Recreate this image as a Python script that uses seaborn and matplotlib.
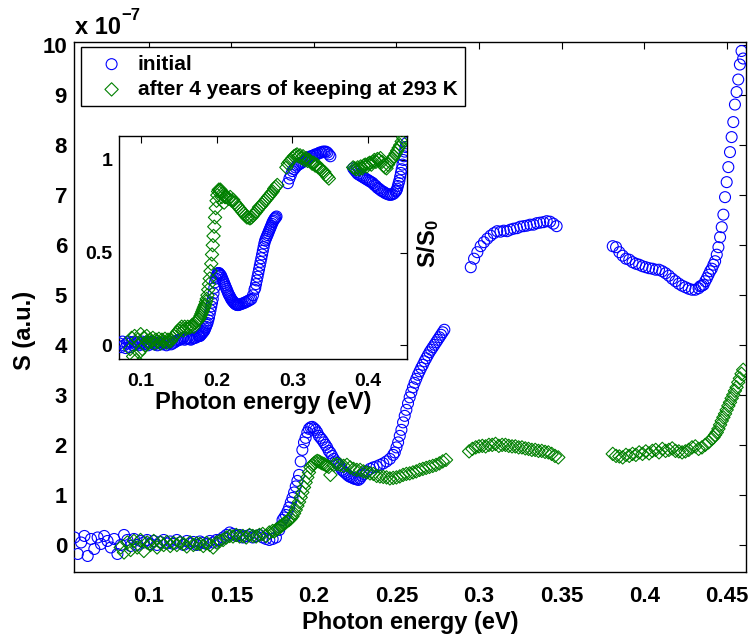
import numpy as np
import matplotlib
matplotlib.use("Agg")
import matplotlib.pyplot as plt
import seaborn as sns

# ---------------- data (main panel, S in units of 1e-7) ----------------
# each segment: (x_start, x_end, y values) sampled evenly between start and end
init_main_segments = [
    (0.055, 0.141, [0.15, -0.18, 0.05, 0.18, -0.22, 0.12, -0.08, 0.15, 0.02, 0.18,
                    0.08, -0.05, 0.12, -0.18, 0.0, 0.2, 0.1, -0.02, 0.12, 0.0,
                    0.08, 0.05, 0.1, 0.02, 0.08, 0.0, 0.06, 0.1, 0.03, 0.07,
                    0.02, 0.1, 0.05, 0.0, 0.08, 0.03, 0.06, 0.0, 0.07, 0.04,
                    0.02, 0.08, 0.05, 0.1]),
    (0.143, 0.179, [0.1, 0.15, 0.2, 0.25, 0.22, 0.18, 0.2, 0.15, 0.18, 0.2,
                    0.15, 0.18, 0.2, 0.15, 0.12, 0.1, 0.12, 0.15, 0.3]),
    (0.180, 0.230, [0.38, 0.5, 0.55, 0.6, 0.67, 0.75, 0.85, 0.94, 1.05, 1.17,
                    1.28, 1.4, 1.67, 1.9, 2.05, 2.14, 2.25, 2.32, 2.35, 2.36,
                    2.33, 2.3, 2.25, 2.18, 2.14, 2.1, 2.05, 2.0, 1.95, 1.88,
                    1.84, 1.78, 1.72, 1.67, 1.64, 1.6, 1.55, 1.5, 1.47, 1.44,
                    1.41, 1.38, 1.36, 1.35, 1.33, 1.32, 1.31, 1.3, 1.33, 1.38,
                    1.42]),
    (0.232, 0.248, [1.47, 1.52, 1.55, 1.57, 1.6, 1.63, 1.67, 1.72, 1.8]),
    (0.249, 0.279, [1.85, 1.95, 2.05, 2.18, 2.3, 2.45, 2.58, 2.7, 2.83, 2.95,
                    3.05, 3.15, 3.24, 3.32, 3.4, 3.47, 3.54, 3.6, 3.67, 3.73,
                    3.79, 3.85, 3.9, 3.95, 4.0, 4.05, 4.1, 4.15, 4.2, 4.25, 4.3]),
    (0.295, 0.347, [5.55, 5.72, 5.85, 5.97, 6.05, 6.12, 6.18, 6.23, 6.27, 6.26,
                    6.28, 6.27, 6.3, 6.32, 6.33, 6.36, 6.37, 6.38, 6.4, 6.4,
                    6.43, 6.44, 6.45, 6.47, 6.46, 6.42, 6.37]),
    (0.381, 0.433, [5.97, 5.95, 5.85, 5.78, 5.72, 5.7, 5.65, 5.62, 5.6, 5.57,
                    5.55, 5.53, 5.52, 5.5, 5.5, 5.47, 5.43, 5.38, 5.32, 5.27,
                    5.22, 5.18, 5.15, 5.12, 5.1, 5.1, 5.13]),
    (0.434, 0.460, [5.17, 5.18, 5.2, 5.27, 5.33, 5.4, 5.47, 5.52, 5.6, 5.67,
                    5.8, 5.95, 6.15, 6.35, 6.6, 6.95, 7.25, 7.55, 7.85, 8.15,
                    8.45, 8.8, 9.05, 9.3, 9.6, 9.87, 9.72]),
]

aged_main_segments = [
    (0.083, 0.141, [-0.05, -0.15, 0.05, -0.1, 0.08, -0.05, 0.1, -0.12, 0.05, 0.0,
                    0.08, -0.05, 0.05, 0.0, 0.06, -0.02, 0.04, 0.0, 0.05, 0.02,
                    -0.03, 0.05, 0.0, 0.03, 0.02, -0.02, 0.04, 0.0, -0.05, 0.05]),
    (0.143, 0.175, [0.08, 0.1, 0.15, 0.18, 0.17, 0.2, 0.17, 0.18, 0.15, 0.2,
                    0.18, 0.17, 0.2, 0.22, 0.18, 0.25, 0.28]),
    (0.176, 0.210, [0.27, 0.3, 0.32, 0.35, 0.37, 0.4, 0.43, 0.45, 0.48, 0.5,
                    0.53, 0.57, 0.63, 0.7, 0.78, 0.86, 0.95, 1.05, 1.15, 1.25,
                    1.35, 1.45, 1.55, 1.6, 1.63, 1.66, 1.68, 1.67, 1.65, 1.63,
                    1.62, 1.6, 1.58, 1.56, 1.4]),
    (0.212, 0.280, [1.6, 1.62, 1.6, 1.58, 1.6, 1.55, 1.52, 1.5, 1.5, 1.47,
                    1.45, 1.43, 1.42, 1.38, 1.37, 1.36, 1.35, 1.33, 1.34, 1.35,
                    1.37, 1.4, 1.42, 1.43, 1.45, 1.47, 1.5, 1.52, 1.54, 1.56,
                    1.58, 1.6, 1.63, 1.67, 1.7]),
    (0.294, 0.348, [1.87, 1.92, 1.95, 1.97, 1.98, 1.97, 2.0, 2.0, 2.02, 1.98,
                    2.0, 2.0, 1.98, 1.97, 1.97, 1.95, 1.95, 1.93, 1.92, 1.9,
                    1.9, 1.88, 1.88, 1.86, 1.85, 1.82, 1.78, 1.75]),
    (0.381, 0.441, [1.82, 1.78, 1.77, 1.75, 1.8, 1.78, 1.82, 1.8, 1.85, 1.82,
                    1.87, 1.83, 1.88, 1.9, 1.85, 1.92, 1.88, 1.9, 1.93, 1.88,
                    1.87, 1.85, 1.87, 1.9, 1.95, 1.97, 1.92, 1.95, 2.0, 2.05,
                    2.12]),
    (0.442, 0.460, [2.15, 2.2, 2.25, 2.32, 2.4, 2.48, 2.55, 2.62, 2.7, 2.78,
                    2.85, 2.93, 3.0, 3.08, 3.15, 3.25, 3.33, 3.42, 3.5]),
]

# ---------------- data (inset, S/S0) ----------------
init_inset_segments = [
    (0.072, 0.150, [0.01, -0.01, 0.02, 0.0, -0.015, 0.01, 0.02, -0.01, 0.015, 0.0,
                    0.02, 0.005, 0.015, 0.0, 0.01, 0.02, 0.005, 0.01, 0.02, 0.0,
                    0.015, 0.01, 0.02, 0.005, 0.01, 0.0, 0.015, 0.01, 0.005, 0.015,
                    0.01, 0.0, 0.01, 0.02, 0.005, 0.01, 0.015, 0.02, 0.025, 0.03]),
    (0.152, 0.176, [0.03, 0.035, 0.04, 0.03, 0.035, 0.04, 0.035, 0.03, 0.035, 0.04,
                    0.04, 0.045, 0.05]),
    (0.177, 0.230, [0.05, 0.05, 0.055, 0.06, 0.065, 0.07, 0.075, 0.08, 0.09, 0.1,
                    0.11, 0.12, 0.135, 0.15, 0.17, 0.19, 0.21, 0.23, 0.25, 0.28,
                    0.31, 0.34, 0.36, 0.375, 0.385, 0.39, 0.39, 0.385, 0.38, 0.375,
                    0.365, 0.355, 0.345, 0.335, 0.325, 0.315, 0.305, 0.295, 0.285, 0.275,
                    0.268, 0.26, 0.252, 0.245, 0.24, 0.235, 0.23, 0.226, 0.222, 0.22,
                    0.218, 0.217, 0.218, 0.22]),
    (0.232, 0.250, [0.222, 0.225, 0.228, 0.232, 0.236, 0.24, 0.245, 0.25, 0.27, 0.3]),
    (0.251, 0.279, [0.31, 0.33, 0.35, 0.37, 0.39, 0.41, 0.43, 0.45, 0.47, 0.49,
                    0.51, 0.53, 0.55, 0.565, 0.575, 0.585, 0.595, 0.605, 0.615, 0.625,
                    0.635, 0.645, 0.655, 0.665, 0.672, 0.68, 0.685, 0.69, 0.695]),
    (0.294, 0.350, [0.875, 0.9, 0.92, 0.94, 0.95, 0.96, 0.97, 0.975, 0.98, 0.985,
                    0.99, 1.0, 1.0, 1.01, 1.015, 1.02, 1.02, 1.025, 1.03, 1.03,
                    1.035, 1.04, 1.04, 1.045, 1.045, 1.045, 1.04, 1.03, 1.02]),
    (0.380, 0.436, [0.955, 0.945, 0.935, 0.925, 0.92, 0.915, 0.91, 0.905, 0.9, 0.895,
                    0.89, 0.885, 0.88, 0.875, 0.865, 0.86, 0.85, 0.845, 0.838, 0.832,
                    0.828, 0.822, 0.818, 0.815, 0.812, 0.812, 0.815, 0.82, 0.83]),
    (0.437, 0.450, [0.835, 0.845, 0.86, 0.875, 0.89, 0.91, 0.93, 0.95, 0.975, 1.0,
                    1.02, 1.045, 1.07, 1.09]),
]

aged_inset_segments = [
    (0.086, 0.150, [-0.02, 0.04, -0.06, 0.05, -0.08, 0.03, -0.04, 0.06, -0.02, 0.04,
                    0.0, 0.05, 0.01, 0.03, 0.02, 0.04, 0.01, 0.03, 0.02, 0.035,
                    0.01, 0.03, 0.02, 0.035, 0.015, 0.03, 0.02, 0.025, 0.04, 0.05,
                    0.06, 0.07, 0.08]),
    (0.152, 0.176, [0.09, 0.1, 0.08, 0.1, 0.09, 0.1, 0.095, 0.1, 0.11, 0.1,
                    0.12, 0.13, 0.14]),
    (0.177, 0.212, [0.14, 0.15, 0.16, 0.17, 0.18, 0.19, 0.2, 0.21, 0.22, 0.235,
                    0.25, 0.27, 0.3, 0.33, 0.36, 0.4, 0.44, 0.49, 0.54, 0.59,
                    0.64, 0.69, 0.74, 0.78, 0.81, 0.83, 0.84, 0.835, 0.84, 0.83,
                    0.8, 0.82, 0.81, 0.77, 0.8, 0.8]),
    (0.214, 0.280, [0.8, 0.79, 0.8, 0.78, 0.785, 0.77, 0.76, 0.75, 0.74, 0.73,
                    0.72, 0.71, 0.7, 0.69, 0.69, 0.685, 0.69, 0.7, 0.71, 0.72,
                    0.73, 0.745, 0.75, 0.76, 0.77, 0.78, 0.79, 0.8, 0.81, 0.82,
                    0.83, 0.845, 0.855, 0.865]),
    (0.292, 0.348, [0.96, 0.98, 0.99, 1.0, 1.01, 1.02, 1.025, 1.03, 1.02, 1.025,
                    1.01, 1.02, 1.0, 1.01, 0.995, 1.0, 0.99, 0.98, 0.985, 0.97,
                    0.975, 0.96, 0.955, 0.95, 0.94, 0.935, 0.92, 0.91, 0.9]),
    (0.380, 0.446, [0.96, 0.955, 0.95, 0.96, 0.95, 0.965, 0.955, 0.97, 0.975, 0.965,
                    0.98, 0.985, 0.975, 0.99, 1.0, 0.99, 1.005, 1.0, 1.01, 0.99,
                    0.97, 0.96, 0.955, 0.975, 0.99, 1.0, 1.01, 1.02, 1.035, 1.05,
                    1.065, 1.08, 1.1, 1.12]),
]

labels = ["initial", "after 4 years of keeping at 293 K"]
main_xticks = [0.1, 0.15, 0.2, 0.25, 0.3, 0.35, 0.4, 0.45]
main_yticks = [0, 1, 2, 3, 4, 5, 6, 7, 8, 9, 10]
inset_xticks = [0.1, 0.2, 0.3, 0.4]
inset_yticks = [0, 0.5, 1]
inset_yticklabels = ["0", "0.5", "1"]


def expand(segments):
    xs, ys = [], []
    for x0, x1, yv in segments:
        xs.extend(np.linspace(x0, x1, len(yv)))
        ys.extend(yv)
    return np.array(xs), np.array(ys)


# ---------------- style ----------------
sns.set_theme(style="white")
plt.rcParams["font.family"] = ["Liberation Sans", "DejaVu Sans"]
plt.rcParams["font.weight"] = "bold"
plt.rcParams["text.color"] = "black"
plt.rcParams["axes.labelcolor"] = "black"
plt.rcParams["xtick.color"] = "black"
plt.rcParams["ytick.color"] = "black"
plt.rcParams["mathtext.fontset"] = "custom"
plt.rcParams["mathtext.rm"] = "Liberation Sans:bold"
plt.rcParams["mathtext.bf"] = "Liberation Sans:bold"
plt.rcParams["mathtext.it"] = "Liberation Sans:bold"

BLUE = "#0000ff"
GREEN = "#008000"
TICK_FS = 16
LABEL_FS = 17
LEG_FS = 15

fig = plt.figure(figsize=(7.5, 6.37), dpi=100)
W, H = 750, 637


def px_axes(l, t, r, b):
    return fig.add_axes([l / W, 1 - b / H, (r - l) / W, (b - t) / H])


def style_axes(ax, fs):
    for s in ax.spines.values():
        s.set_color("black")
        s.set_linewidth(1.0)
    ax.tick_params(direction="in", top=True, right=True, length=5, width=0.8,
                   colors="black", labelcolor="black", labelsize=fs)
    for lab in ax.get_xticklabels() + ax.get_yticklabels():
        lab.set_fontweight("bold")


ax = px_axes(74, 41.5, 746, 572)
xi, yi = expand(init_main_segments)
xa, ya = expand(aged_main_segments)
sns.scatterplot(x=xi, y=yi, ax=ax, marker="o", s=62, color=BLUE, facecolor="none",
                edgecolor=BLUE, linewidth=0.8, label=labels[0], zorder=3)
sns.scatterplot(x=xa, y=ya, ax=ax, marker="D", s=46, color=GREEN, facecolor="none",
                edgecolor=GREEN, linewidth=0.8, label=labels[1], zorder=4)
ax.set_xlim(0.0547, 0.4617)
ax.set_ylim(-0.54, 10.06)
ax.set_xticks(main_xticks)
ax.set_xticklabels([f"{v:g}" for v in main_xticks])
ax.set_yticks(main_yticks)
ax.set_yticklabels([str(v) for v in main_yticks])
style_axes(ax, TICK_FS)
ax.tick_params(axis="x", pad=10)
ax.tick_params(axis="y", pad=5)
ax.set_xlabel("Photon energy (eV)", fontsize=LABEL_FS, fontweight="bold",
              color="black", labelpad=3)
ax.set_ylabel("S (a.u.)", fontsize=LABEL_FS, fontweight="bold", color="black")
ax.yaxis.set_label_coords(-0.056, 0.456)
leg = ax.legend(loc="upper left", bbox_to_anchor=(0.011, 0.989), frameon=True,
                fancybox=False, edgecolor="black", framealpha=1, fontsize=LEG_FS,
                handletextpad=0.15, handlelength=2.2, borderpad=0.35, labelspacing=0.3,
                borderaxespad=0)
leg.get_frame().set_linewidth(1.0)
for t in leg.get_texts():
    t.set_fontweight("bold")
    t.set_color("black")

fig.text(75 / W, 1 - 34 / H, "x 10", fontsize=LABEL_FS, fontweight="bold",
         ha="left", va="baseline", color="black")
fig.text(121 / W, 1 - 20 / H, "\u22127", fontsize=12, fontweight="bold", ha="left",
         va="baseline", color="black")

# ---------------- inset ----------------
ax2 = px_axes(119.3, 135.7, 407, 359)
xii, yii = expand(init_inset_segments)
xai, yai = expand(aged_inset_segments)
sns.scatterplot(x=xii, y=yii, ax=ax2, marker="o", s=62, color=BLUE, facecolor="none",
                edgecolor=BLUE, linewidth=0.8, legend=False, zorder=3)
sns.scatterplot(x=xai, y=yai, ax=ax2, marker="D", s=46, color=GREEN, facecolor="none",
                edgecolor=GREEN, linewidth=0.8, legend=False, zorder=4)
ax2.set_xlim(0.0718, 0.451)
ax2.set_ylim(-0.074, 1.131)
ax2.set_xticks(inset_xticks)
ax2.set_xticklabels([f"{v:g}" for v in inset_xticks])
ax2.set_yticks(inset_yticks)
ax2.set_yticklabels(inset_yticklabels)
style_axes(ax2, 14)
ax2.tick_params(axis="x", pad=10)
ax2.tick_params(axis="y", pad=5)
ax2.set_xlabel("Photon energy (eV)", fontsize=LABEL_FS, fontweight="bold",
               color="black", labelpad=1)
ax2.set_ylabel("")
ax2.set_facecolor("white")

fig.text(428 / W, 1 - 244 / H, r"S/S$_0$", fontsize=LABEL_FS, fontweight="bold",
         rotation=90, ha="center", va="center", color="black")

fig.savefig("out.png", dpi=100)
